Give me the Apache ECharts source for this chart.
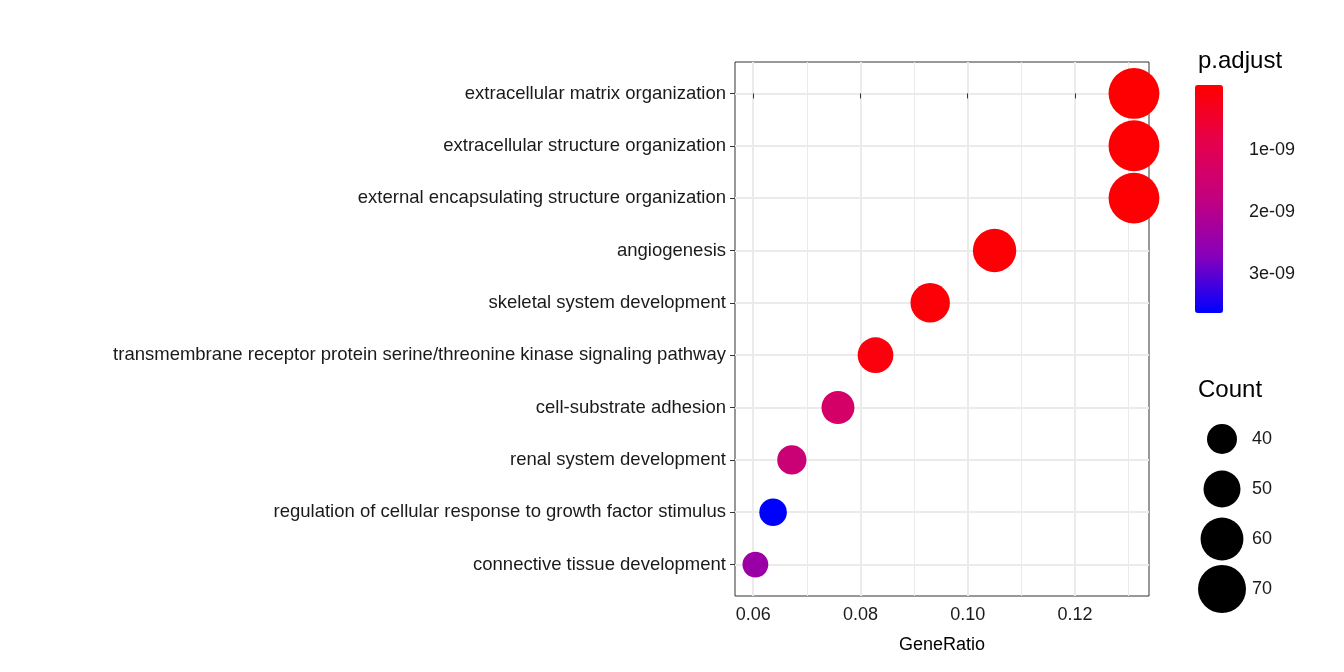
<!DOCTYPE html>
<html>
<head>
<meta charset="utf-8">
<script src="https://cdn.jsdelivr.net/npm/echarts@6/dist/echarts.min.js"></script>
<style>body{margin:0;background:#fff}#main{width:1344px;height:672px}</style>
</head>
<body>
<div id="main"></div>
<script>
var terms = ['extracellular matrix organization','extracellular structure organization',
  'external encapsulating structure organization','angiogenesis','skeletal system development',
  'transmembrane receptor protein serine/threonine kinase signaling pathway','cell-substrate adhesion',
  'renal system development','regulation of cellular response to growth factor stimulus',
  'connective tissue development'];
var geneRatio = [0.1310, 0.1310, 0.1310, 0.1050, 0.0930, 0.0828, 0.0758, 0.0672, 0.0637, 0.0604];
var counts = [76, 76, 76, 61, 54, 48, 44, 39, 37, 35];
var padj = [0.02e-9, 0.03e-9, 0.04e-9, 0.06e-9, 0.08e-9, 0.15e-9, 1.35e-9, 1.6e-9, 3.6e-9, 2.4e-9];
var xTicks = [0.06, 0.08, 0.10, 0.12];
var xMinor = [0.07, 0.09, 0.11, 0.13];
var sizeBreaks = [40, 50, 60, 70];
var colorTicks = [1e-9, 2e-9, 3e-9];

function diam(c) { return Math.sqrt(Math.max(900 + 46.8 * (c - 40), 100)); }
var txt = '#1a1a1a';
var chart = echarts.init(document.getElementById('main'));
chart.setOption({
  animation: false,
  textStyle: {fontFamily: 'Liberation Sans, Arial'},
  grid: [
    {left: 735, top: 62, width: 414, height: 534, show: true, borderColor: '#333', borderWidth: 1},
    {left: 1195, top: 414, width: 54, height: 200},
    {left: 1195, top: 85, width: 28, height: 228}
  ],
  title: [
    {text: 'p.adjust', left: 1193, top: 44, textStyle: {fontSize: 24, fontWeight: 'normal', color: '#000'}},
    {text: 'Count', left: 1193, top: 373, textStyle: {fontSize: 24, fontWeight: 'normal', color: '#000'}}
  ],
  xAxis: [
    {gridIndex: 0, type: 'value', min: 0.0566, max: 0.1338, name: 'GeneRatio', nameLocation: 'middle', nameGap: 40,
      nameTextStyle: {fontSize: 18, color: '#000'},
      axisLine: {show: false},
      axisTick: {show: true, length: 5, customValues: xTicks, lineStyle: {color: '#333'}},
      axisLabel: {customValues: xTicks, fontSize: 18, color: txt, margin: 10, formatter: function (v) { return v.toFixed(2); }},
      splitLine: {show: true, lineStyle: {color: '#EBEBEB', width: 2}}},
    {gridIndex: 0, type: 'value', min: 0.0566, max: 0.1338, position: 'bottom',
      axisLine: {show: false}, axisTick: {show: false, customValues: xMinor},
      axisLabel: {show: false, customValues: xMinor, color: 'transparent'},
      splitLine: {show: true, lineStyle: {color: '#EBEBEB', width: 1}}},
    {gridIndex: 1, type: 'value', min: 0, max: 1, show: false},
    {gridIndex: 2, type: 'value', min: 0, max: 1, show: false}
  ],
  yAxis: [
    {gridIndex: 0, type: 'value', min: -0.6, max: 9.6, inverse: true,
      axisLine: {show: false},
      axisTick: {show: true, length: 5, customValues: terms.map(function (t, i) { return i; }), lineStyle: {color: '#333'}},
      axisLabel: {customValues: terms.map(function (t, i) { return i; }), fontSize: 18.5, color: txt, margin: 9,
        formatter: function (v) { return terms[Math.round(v)]; }},
      splitLine: {show: true, lineStyle: {color: '#EBEBEB', width: 2}}},
    {gridIndex: 1, type: 'value', min: -0.5, max: 3.5, inverse: true, show: false},
    {gridIndex: 2, type: 'value', min: -0.05e-9, max: 3.63e-9, inverse: true, position: 'right',
      axisLine: {show: false},
      axisTick: {show: true, inside: true, length: 6, customValues: colorTicks, lineStyle: {color: '#fff'}},
      axisLabel: {customValues: colorTicks, fontSize: 18, color: txt, margin: 26,
        formatter: function (v) { return Math.round(v * 1e9) + 'e-09'; }},
      splitLine: {show: false}, z: 10}
  ],
  visualMap: {
    type: 'continuous', seriesIndex: 0, dimension: 2, min: 0, max: 3.6e-9,
    inRange: {color: ['#FF0000', '#E6004D', '#C20080', '#8800BB', '#0000FF']},
    show: true, inverse: true, calculable: false, left: 1195, top: 85, padding: 0,
    itemWidth: 28, itemHeight: 228,
    text: ['', ''], showLabel: false, textStyle: {color: 'transparent'}, z: 1
  },
  series: [
    {type: 'scatter', xAxisIndex: 0, yAxisIndex: 0,
      data: terms.map(function (t, i) { return [geneRatio[i], i, padj[i], counts[i]]; }),
      symbolSize: function (d) { return diam(d[3]); }, itemStyle: {opacity: 1}},
    {type: 'scatter', xAxisIndex: 2, yAxisIndex: 1, silent: true,
      data: sizeBreaks.map(function (c, i) { return [0.5, i, c]; }),
      symbolSize: function (d) { return diam(d[2]); }, itemStyle: {color: '#000', opacity: 1},
      label: {show: true, position: 'inside', offset: [30, 0], align: 'left', fontSize: 18, color: txt,
        formatter: function (p) { return p.data[2]; }}}
  ]
});
</script>
</body>
</html>
